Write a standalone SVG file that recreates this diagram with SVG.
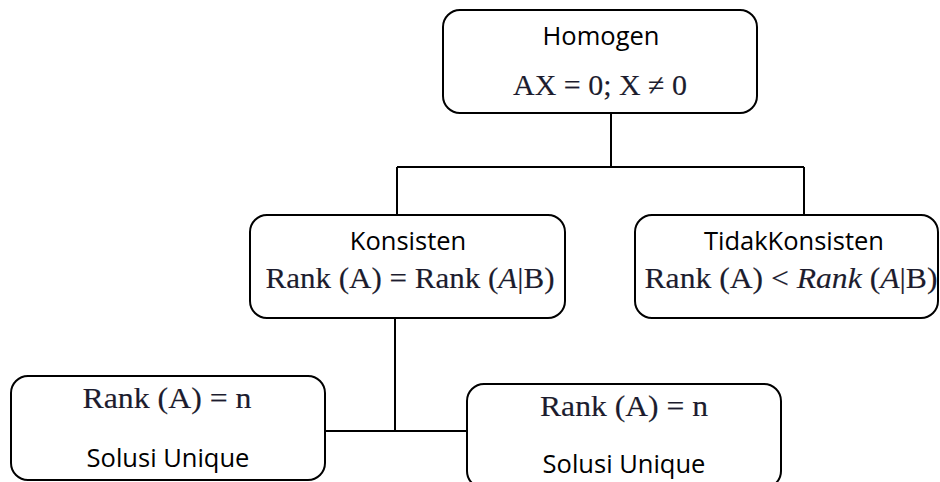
<svg xmlns="http://www.w3.org/2000/svg" width="940" height="482" viewBox="0 0 940 482">
<style>
.box{fill:#fff;stroke:#000;stroke-width:2}
.lbl{font-family:"Open Sans","Noto Sans",sans-serif;font-size:25.5px;fill:#000;text-anchor:middle}
.math{font-family:"Liberation Serif","Times New Roman",serif;font-size:30px;fill:#1c1c2e;stroke:#1c1c2e;stroke-width:0.15;text-anchor:middle}
.it{font-style:italic}
.conn{fill:none;stroke:#000;stroke-width:2}
</style>
<rect width="940" height="482" fill="#fff"/>
<g id="connectors">
<path class="conn" d="M611,113 V167"/>
<path class="conn" d="M397,167 H804"/>
<path class="conn" d="M397,167 V216"/>
<path class="conn" d="M804,167 V215"/>
<path class="conn" d="M395,318 V431"/>
<path class="conn" d="M325,431 H467"/>
</g>
<g id="homogen">
<rect class="box" x="443" y="10" width="314" height="103" rx="17"/>
<text class="lbl" x="601" y="45">Homogen</text>
<text class="math" x="600" y="95" textLength="174" lengthAdjust="spacingAndGlyphs">AX = 0; X ≠ 0</text>
</g>
<g id="konsisten">
<rect class="box" x="250" y="215" width="315" height="103" rx="17"/>
<text class="lbl" x="408" y="250">Konsisten</text>
<text class="math" x="410" y="288" textLength="289" lengthAdjust="spacingAndGlyphs">Rank (A) = Rank (<tspan class="it">A</tspan>|B)</text>
</g>
<g id="tidakkonsisten">
<rect class="box" x="635" y="215" width="303" height="103" rx="17"/>
<text class="lbl" x="794" y="250">TidakKonsisten</text>
<text class="math" x="791" y="288" textLength="293" lengthAdjust="spacingAndGlyphs">Rank (A) &lt; <tspan class="it">Rank</tspan> (<tspan class="it">A</tspan>|B)</text>
</g>
<g id="unique1">
<rect class="box" x="11" y="376" width="314" height="104" rx="17"/>
<text class="math" x="167" y="408" textLength="169" lengthAdjust="spacingAndGlyphs">Rank (A) = n</text>
<text class="lbl" x="168" y="467">Solusi Unique</text>
</g>
<g id="unique2">
<rect class="box" x="467" y="384" width="314" height="104" rx="17"/>
<text class="math" x="624" y="416" textLength="168" lengthAdjust="spacingAndGlyphs">Rank (A) = n</text>
<text class="lbl" x="624" y="473">Solusi Unique</text>
</g>
</svg>
